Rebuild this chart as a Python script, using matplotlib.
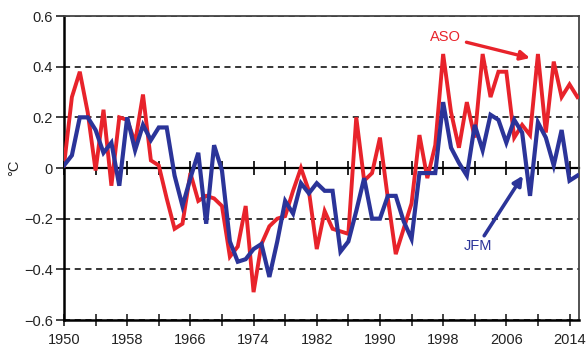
import matplotlib.pyplot as plt
import numpy as np

plt.rcParams['font.family'] = ['Liberation Sans', 'DejaVu Sans']

years = np.arange(1950, 2016)

# Aug-Oct anomaly (red)
aso = [0.01, 0.28, 0.38, 0.22, -0.01, 0.23, -0.07, 0.20, 0.19, 0.10,
       0.29, 0.03, 0.01, -0.12, -0.24, -0.22, -0.02, -0.13, -0.11, -0.12,
       -0.15, -0.35, -0.31, -0.15, -0.49, -0.30, -0.23, -0.20, -0.19, -0.09,
       0.00, -0.09, -0.32, -0.17, -0.24, -0.25, -0.26, 0.20, -0.05, -0.02,
       0.12, -0.12, -0.34, -0.24, -0.14, 0.13, -0.04, 0.09, 0.45, 0.22,
       0.08, 0.26, 0.12, 0.45, 0.28, 0.38, 0.38, 0.12, 0.17, 0.13,
       0.45, 0.14, 0.42, 0.28, 0.33, 0.28]

# Jan-Mar anomaly (blue)
jfm = [0.01, 0.05, 0.20, 0.20, 0.15, 0.06, 0.10, -0.07, 0.20, 0.07,
       0.17, 0.11, 0.16, 0.16, -0.03, -0.15, -0.04, 0.06, -0.22, 0.09,
       -0.01, -0.29, -0.37, -0.36, -0.32, -0.30, -0.43, -0.29, -0.13, -0.18,
       -0.06, -0.10, -0.06, -0.09, -0.09, -0.33, -0.29, -0.17, -0.04, -0.20,
       -0.20, -0.11, -0.11, -0.21, -0.28, -0.02, -0.02, -0.02, 0.26, 0.08,
       0.02, -0.03, 0.17, 0.07, 0.21, 0.19, 0.10, 0.19, 0.14, -0.11,
       0.18, 0.12, 0.01, 0.15, -0.05, -0.03]

xticks = np.arange(1950, 2015, 8)
yticks = [-0.6, -0.4, -0.2, 0, 0.2, 0.4, 0.6]
ytick_labels = ["\u22120.6", "\u22120.4", "\u22120.2", "0", "0.2", "0.4", "0.6"]

red = "#e8232b"
blue = "#2b3499"

fig = plt.figure(figsize=(5.88, 3.47), dpi=100)
ax = fig.add_axes([64 / 588, 1 - 320 / 347, 515 / 588, 304 / 347])

ax.plot(years, aso, color=red, lw=2.8, solid_joinstyle='miter', zorder=3)
ax.plot(years, jfm, color=blue, lw=3.0, solid_joinstyle='miter', zorder=4)

ax.set_xlim(1950, 2015.2)
ax.set_ylim(-0.6, 0.6)
ax.set_xticks(xticks)
ax.set_xticks(np.arange(1954, 2015, 8), minor=True)
ax.set_yticks(yticks)
ax.set_yticklabels(ytick_labels)

ax.yaxis.grid(True, color="black", lw=1.1, ls=(0, (4, 3)))
ax.tick_params(axis='x', which='both', direction='inout', length=9, width=1.2, pad=5,
               labelsize=10.5, colors='#222222')
ax.tick_params(axis='y', direction='out', length=6, width=1.2, pad=2,
               labelsize=10.5, colors='#222222')
ax.set_ylabel("\u00b0C", fontsize=10.5, color='#222222', labelpad=2)

for side in ['left', 'bottom']:
    ax.spines[side].set_linewidth(1.8)
for side in ['top', 'right']:
    ax.spines[side].set_linewidth(1.3)
    ax.spines[side].set_color('#444444')

# zero line with tick marks
zero = ax.secondary_xaxis(0.5)
zero.set_xticks(xticks)
zero.set_xticks(np.arange(1954, 2015, 8), minor=True)
zero.tick_params(which='both', direction='inout', length=10, width=1.2, labelbottom=False,
                 labeltop=False)
zero.spines['bottom'].set_linewidth(1.6)
zero.spines['top'].set_linewidth(1.6)

ax.annotate("ASO", xy=(2009.0, 0.434), xytext=(1998.3, 0.517), color=red, fontsize=10.5,
            ha='center', va='center',
            arrowprops=dict(arrowstyle='-|>', color=red, lw=2.4, shrinkA=2, shrinkB=0,
                            mutation_scale=14))
ax.annotate("JFM", xy=(2008.1, -0.03), xytext=(2002.4, -0.306), color=blue, fontsize=10.5,
            ha='center', va='center',
            arrowprops=dict(arrowstyle='-|>', color=blue, lw=2.6, shrinkA=0, shrinkB=0,
                            mutation_scale=14))

plt.savefig("out.png", dpi=100)
